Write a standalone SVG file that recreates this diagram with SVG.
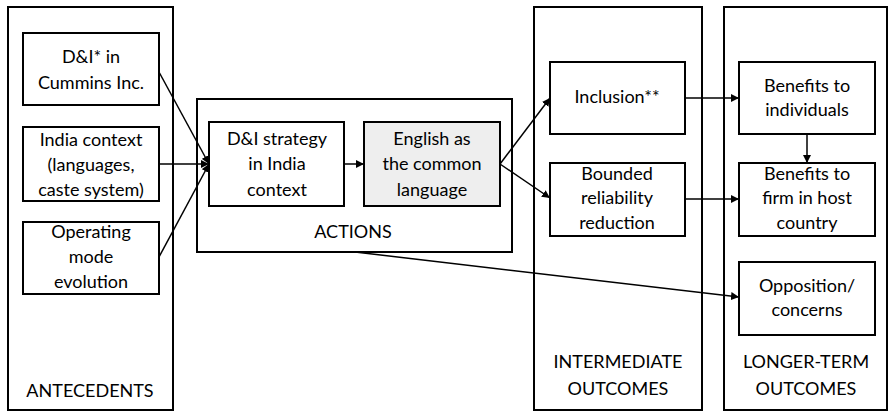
<svg xmlns="http://www.w3.org/2000/svg" width="889" height="412" viewBox="0 0 889 412">
<style>
.box{fill:#fff;stroke:#000;stroke-width:2}
.grey{fill:#eeeeee;stroke:#000;stroke-width:2}
.t{font-family:Lato,"Liberation Sans",sans-serif;font-size:18px;fill:#000;text-anchor:middle}
.c line{stroke:#000;stroke-width:1.5;marker-end:url(#ah)}
</style>
<defs>
<marker id="ah" viewBox="0 0 10 10" refX="10" refY="5" markerWidth="8" markerHeight="8" markerUnits="userSpaceOnUse" orient="auto">
<path d="M0,0 L10,5 L0,10 z" fill="#000"/>
</marker>
</defs>
<g id="antecedents">
<rect class="box" x="8" y="7" width="165" height="403"/>
<text class="t" x="90" y="397">ANTECEDENTS</text>
</g>
<g id="actions">
<rect class="box" x="197" y="99" width="315" height="153"/>
<text class="t" x="353" y="238">ACTIONS</text>
</g>
<g id="intermediate">
<rect class="box" x="534" y="7" width="168" height="403"/>
<text class="t" x="618" y="368">INTERMEDIATE</text>
<text class="t" x="618" y="395">OUTCOMES</text>
</g>
<g id="longer">
<rect class="box" x="724" y="7" width="163" height="403"/>
<text class="t" x="806" y="368">LONGER-TERM</text>
<text class="t" x="806" y="395">OUTCOMES</text>
</g>
<g id="dni-cummins">
<rect class="box" x="23" y="33" width="136" height="72"/>
<text class="t" x="91" y="63">D&amp;I* in</text>
<text class="t" x="91" y="89">Cummins Inc.</text>
</g>
<g id="india-context">
<rect class="box" x="23" y="127" width="136" height="74"/>
<text class="t" x="91" y="146">India context</text>
<text class="t" x="91" y="171">(languages,</text>
<text class="t" x="91" y="196">caste system)</text>
</g>
<g id="operating-mode">
<rect class="box" x="23" y="222" width="136" height="72"/>
<text class="t" x="91" y="238">Operating</text>
<text class="t" x="91" y="263">mode</text>
<text class="t" x="91" y="288">evolution</text>
</g>
<g id="dni-strategy">
<rect class="box" x="209" y="122" width="135" height="84"/>
<text class="t" x="277" y="145">D&amp;I strategy</text>
<text class="t" x="277" y="170">in India</text>
<text class="t" x="277" y="196">context</text>
</g>
<g id="english">
<rect class="grey" x="364" y="122" width="136" height="84"/>
<text class="t" x="432" y="145">English as</text>
<text class="t" x="432" y="170">the common</text>
<text class="t" x="432" y="196">language</text>
</g>
<g id="inclusion">
<rect class="box" x="550" y="62" width="135" height="72"/>
<text class="t" x="617" y="103">Inclusion**</text>
</g>
<g id="bounded">
<rect class="box" x="550" y="163" width="135" height="73"/>
<text class="t" x="617" y="180">Bounded</text>
<text class="t" x="617" y="204">reliability</text>
<text class="t" x="617" y="229">reduction</text>
</g>
<g id="benefits-individuals">
<rect class="box" x="739" y="62" width="136" height="72"/>
<text class="t" x="807" y="92">Benefits to</text>
<text class="t" x="807" y="116">individuals</text>
</g>
<g id="benefits-firm">
<rect class="box" x="739" y="163" width="136" height="73"/>
<text class="t" x="807" y="180">Benefits to</text>
<text class="t" x="807" y="204">firm in host</text>
<text class="t" x="807" y="229">country</text>
</g>
<g id="opposition">
<rect class="box" x="739" y="262" width="136" height="73"/>
<text class="t" x="807" y="292">Opposition/</text>
<text class="t" x="807" y="316">concerns</text>
</g>
<g class="c" id="connectors">
<line x1="159" y1="72" x2="209" y2="164"/>
<line x1="159" y1="164" x2="209" y2="164"/>
<line x1="159" y1="257" x2="209" y2="164"/>
<line x1="344" y1="164" x2="364" y2="164"/>
<line x1="500" y1="164" x2="550" y2="98"/>
<line x1="500" y1="164" x2="550" y2="198"/>
<line x1="685" y1="98" x2="739" y2="98"/>
<line x1="685" y1="199" x2="739" y2="199"/>
<line x1="807" y1="134" x2="807" y2="163"/>
<line x1="355" y1="252" x2="739" y2="297"/>
</g>
</svg>
